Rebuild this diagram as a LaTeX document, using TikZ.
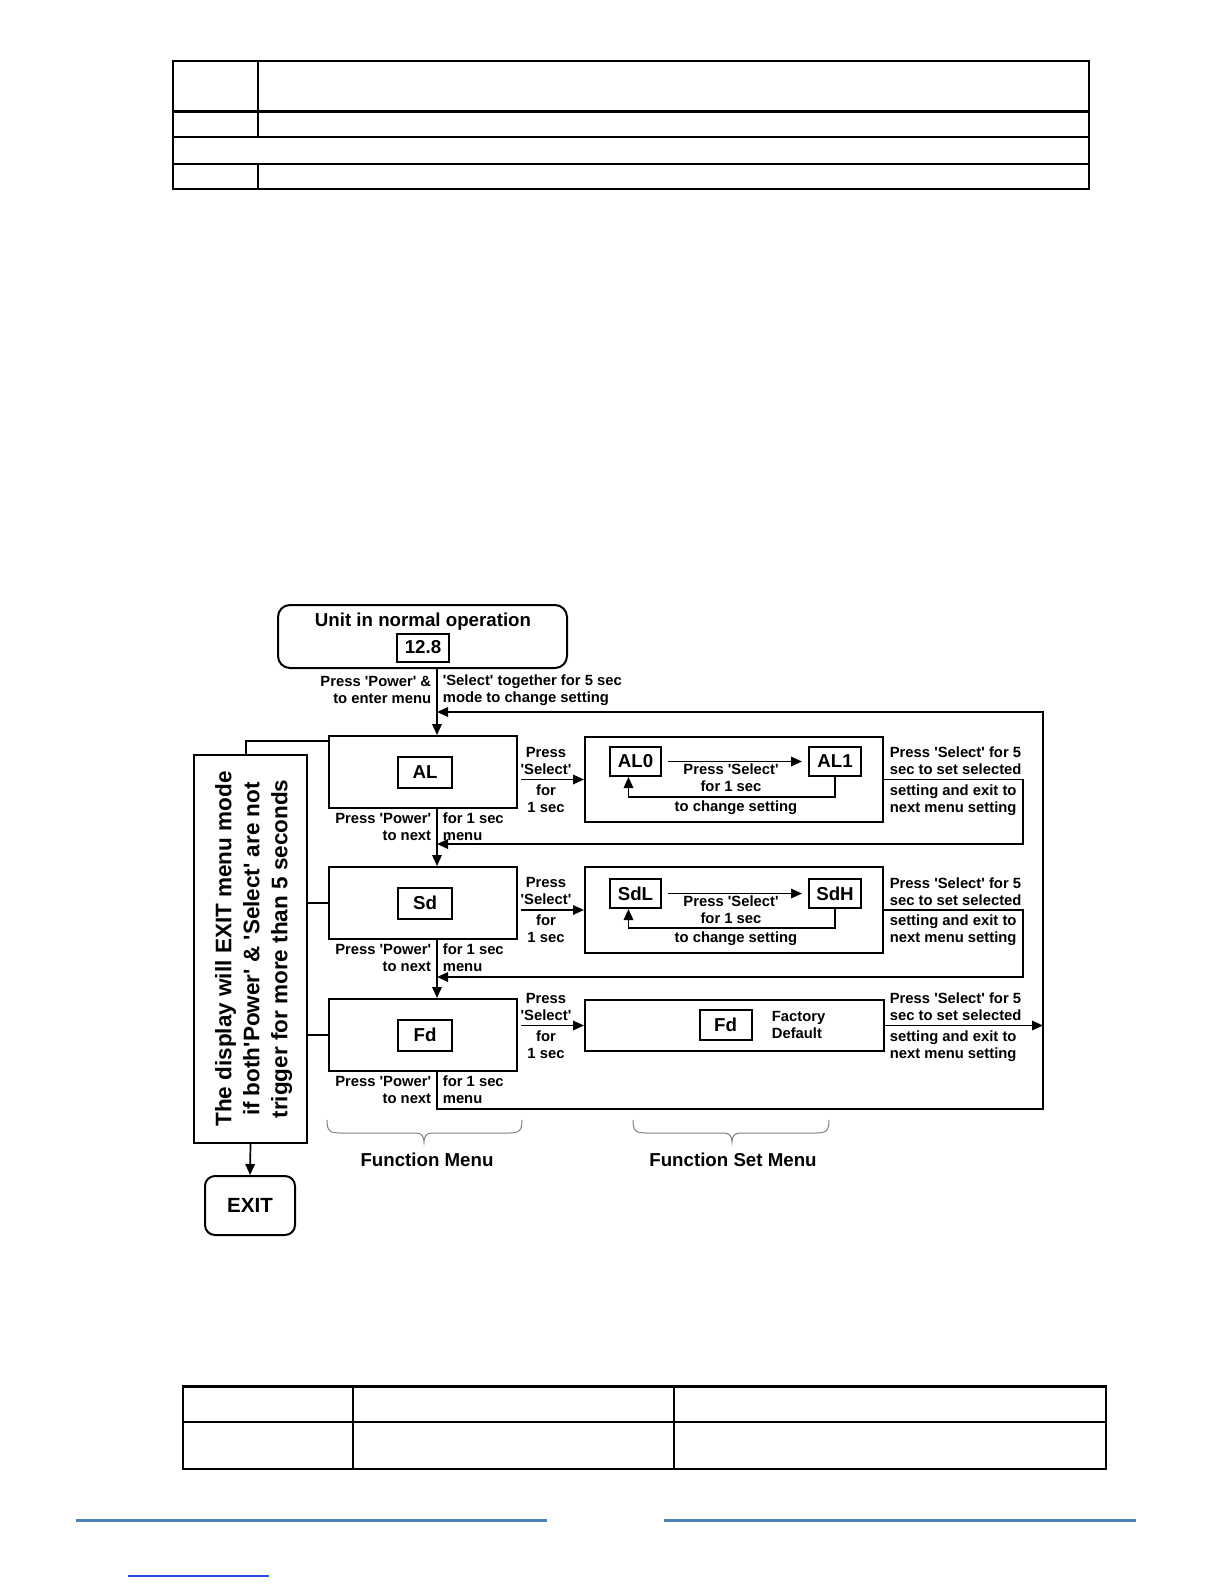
\documentclass[tikz,border=0pt]{standalone}
\usepackage{fontspec}
\setmainfont{Liberation Sans}[Ligatures=TeXOff]
\usetikzlibrary{arrows.meta}

\begin{document}
\begin{tikzpicture}[x=1pt, y=-1pt, line width=1.7pt, >={Triangle[length=11pt,width=9.5pt]},
  box/.style={draw, line width=2pt, inner sep=0pt},
  lbl/.style={inner sep=0pt, font=\fontsize{14.8}{17}\selectfont\bfseries},
  big/.style={inner sep=0pt, font=\fontsize{18.7}{22}\selectfont\bfseries},
  brace/.style={draw=gray, line width=1pt},
  blueline/.style={draw={rgb,255:red,79;green,129;blue,189}, line width=3pt}]
\fill[white] (0,0) rectangle (1225,1585);
\useasboundingbox (0,0) rectangle (1225,1585);

% tables
\draw (173,61) rectangle (1089,189);
\draw[line width=3pt] (173,111) -- (1089,111);
\draw (173,137) -- (1089,137);
\draw (173,164) -- (1089,164);
\draw (258,61) -- (258,137);
\draw (258,164) -- (258,189);

\draw (183,1386) rectangle (1106,1469);
\draw[line width=3pt] (183,1386) -- (1106,1386);
\draw (183,1422) -- (1106,1422);
\draw (353,1386) -- (353,1469);
\draw (674,1386) -- (674,1469);

\draw[blueline] (76,1520) -- (547,1520);
\draw[blueline] (664,1520) -- (1136,1520);
\draw[blueline, line width=1.2pt, draw={rgb,255:red,40;green,80;blue,220}] (128,1576) -- (269,1576);

% start
\node[box, rounded corners=12pt, minimum width=289pt, minimum height=63pt] (start) at (422.5,636.5) {};
\node[big] (title) at (423,622) {Unit in normal operation};
\node[box, big, minimum width=52pt, minimum height=28pt] (val) at (423,647.5) {12.8};
\node[lbl, anchor=east, align=right] (enterl) at (432,690) {Press 'Power' \&\\to enter menu};
\node[lbl, anchor=west, align=left] (enterr) at (442,690) {'Select' together for 5 sec\\mode to change setting};

\coordinate (trunk) at (437,0);
\coordinate (back) at (437,712);
\coordinate (rt) at (1043,1109);
\coordinate (alret) at (1023,844);
\coordinate (sdret) at (1023,977);

% function menu
\foreach \n/\y/\t in {al/772/AL, sd/903/Sd, fd/1035/Fd}{
  \node[box, minimum width=188pt, minimum height=72pt] (\n) at (423,\y) {};
  \node[box, big, minimum width=54pt, minimum height=31pt] (in\n) at (425,\y) {\t};
  \node[lbl, anchor=east, align=right] (pw\n) at (432,\y+55) {Press 'Power'\\to next};
  \node[lbl, anchor=west, align=left] (pm\n) at (442,\y+55) {for 1 sec\\menu};
}

% function set menu
\node[box, minimum width=298pt, minimum height=85pt] (alset) at (734,779.5) {};
\node[box, big, minimum width=51pt, minimum height=29pt] (alzero) at (635.5,761.5) {AL0};
\node[box, big, minimum width=52pt, minimum height=29pt] (alone) at (835,761.5) {AL1};
\node[lbl, align=center] (alpress) at (731,778) {Press 'Select'\\for 1 sec};
\node[lbl] (alchg) at (736,808) {to change setting};

\node[box, minimum width=298pt, minimum height=86pt] (sdset) at (734,910) {};
\node[box, big, minimum width=51pt, minimum height=29pt] (sdlow) at (635.5,893.5) {SdL};
\node[box, big, minimum width=52pt, minimum height=29pt] (sdhigh) at (835,893.5) {SdH};
\node[lbl, align=center] (sdpress) at (731,909.5) {Press 'Select'\\for 1 sec};
\node[lbl] (sdchg) at (736,939) {to change setting};

\node[box, minimum width=299pt, minimum height=51pt] (fdset) at (734.5,1025.5) {};
\node[box, big, minimum width=52pt, minimum height=30pt] (fdsv) at (725.5,1025) {Fd};
\node[lbl, anchor=west, align=left] (factory) at (771,1025) {Factory\\Default};

\draw[->, shorten <=6pt, shorten >=6pt] (alzero) -- (alone);
\draw[->] (alone.south) -- ++(0,20) -| ([xshift=-7pt]alzero.south);
\draw[->, shorten <=6pt, shorten >=6pt] (sdlow) -- (sdhigh);
\draw[->] (sdhigh.south) -- ++(0,19) -| ([xshift=-7pt]sdlow.south);

\foreach \n/\s/\y in {al/alset/779.5, sd/sdset/910, fd/fdset/1025.5}{
  \draw[->, shorten <=3pt] (\n.east |- \s.west) -- (\s.west);
  \node[lbl, align=center] (sp\n) at (546,\y-19) {Press\\'Select'};
  \node[lbl, align=center] (sf\n) at (546,\y+19) {for\\1 sec};
  \node[lbl, anchor=west, align=left] (st\n) at (889,\y-18.5) {Press 'Select' for 5\\sec to set selected};
  \node[lbl, anchor=west, align=left] (sx\n) at (889,\y+20.5) {setting and exit to\\next menu setting};
}

% flow
\draw[->] (start.south -| trunk) -- (al.north -| trunk);
\draw[->] (al.south -| trunk) -- (sd.north -| trunk);
\draw[->] (sd.south -| trunk) -- (fd.north -| trunk);
\draw[->] (fd.south -| trunk) |- (rt) |- (back);
\draw[->] (alset.east) -| (alret) -- (alret -| trunk);
\draw[->] (sdset.east) -| (sdret) -- (sdret -| trunk);
\draw[->] (fdset.east) -- (fdset.east -| rt);

% exit note
\node[box, minimum width=113pt, minimum height=388pt] (note) at (250.5,949) {};
\node[rotate=90, align=center, inner sep=0pt, font=\fontsize{22.5}{28}\selectfont\bfseries] (notetxt) at ([xshift=3pt]note) {The display will EXIT menu mode\\if both'Power' \& 'Select' are not\\trigger for more than 5 seconds};
\node[box, rounded corners=10pt, minimum width=90pt, minimum height=59pt, font=\fontsize{20.5}{24}\selectfont\bfseries] (exit) at (250,1205.5) {EXIT};
\draw ([xshift=-4.5pt]note.north) |- ([yshift=-6pt]al.north west);
\draw (note.east |- sd.west) -- (sd.west);
\draw (note.east |- fd.west) -- (fd.west);
\draw[->] (note.south) -- (exit.north);

% braces
\draw[brace] (327,1120) .. controls (327,1131) and (330,1133) .. (340,1133) -- (416,1133) .. controls (422,1133) and (424,1137) .. (424,1142) .. controls (424,1137) and (426,1133) .. (432,1133) -- (509,1133) .. controls (519,1133) and (522,1131) .. (522,1120);
\draw[brace] (633,1120) .. controls (633,1131) and (636,1133) .. (646,1133) -- (724,1133) .. controls (730,1133) and (732,1137) .. (732,1142) .. controls (732,1137) and (734,1133) .. (740,1133) -- (816,1133) .. controls (826,1133) and (829,1131) .. (829,1120);
\node[big] (fmenu) at (427,1160) {Function Menu};
\node[big] (fsetmenu) at (733,1160) {Function Set Menu};
\end{tikzpicture}
\end{document}
